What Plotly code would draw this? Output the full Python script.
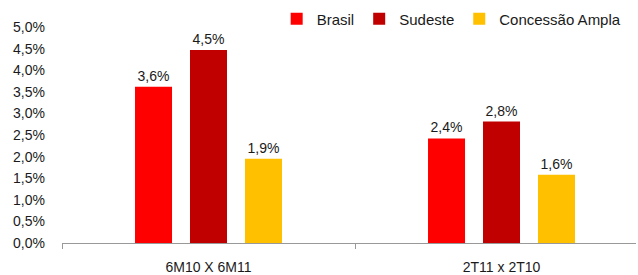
import plotly.graph_objects as go

categories = ["6M10 X 6M11", "2T11 x 2T10"]
series_names = ["Brasil", "Sudeste", "Concessão Ampla"]
brasil = [0.0362, 0.0242]
sudeste = [0.0447, 0.0281]
concessao = [0.0195, 0.0158]
colors = ["#FF0000", "#C00000", "#FFC000"]
y_ticks = [i * 0.005 for i in range(11)]

fig = go.Figure()
for name, vals, col in zip(series_names, [brasil, sudeste, concessao], colors):
    fig.add_trace(go.Bar(
        x=categories, y=vals, name=name, marker=dict(color=col, line=dict(width=0)),
        texttemplate="%{y:.1%}", textposition="outside", cliponaxis=False,
        textfont=dict(size=14, color="#1a1a1a"),
    ))

fig.update_layout(
    width=638, height=275,
    margin=dict(l=62, r=2, t=10, b=32, autoexpand=False),
    paper_bgcolor="white", plot_bgcolor="white",
    font=dict(family="Liberation Sans, Arial, sans-serif", size=14, color="#1a1a1a"),
    separators=",.",
    barmode="group", bargap=0.437, bargroupgap=0.327,
    showlegend=True,
    legend=dict(orientation="h", x=0.374, xanchor="left", y=0.961, yanchor="middle",
                font=dict(size=15), bgcolor="rgba(0,0,0,0)"),
    xaxis=dict(showline=True, linecolor="#999999", linewidth=1, ticks="outside",
               tickson="boundaries", ticklen=5, tickcolor="#999999", showgrid=False,
               ticklabelstandoff=11, automargin=False, range=[-0.5, 1.459]),
    yaxis=dict(range=[0, 0.05394], tickvals=y_ticks, tickformat=".1%", showgrid=False,
               zeroline=False, showline=False, ticks="", ticklabelstandoff=16,
               automargin=False),
)

fig.write_html("out.html", config={"displayModeBar": False},
               post_script="document.body.style.margin='0';document.body.style.padding='0';")
